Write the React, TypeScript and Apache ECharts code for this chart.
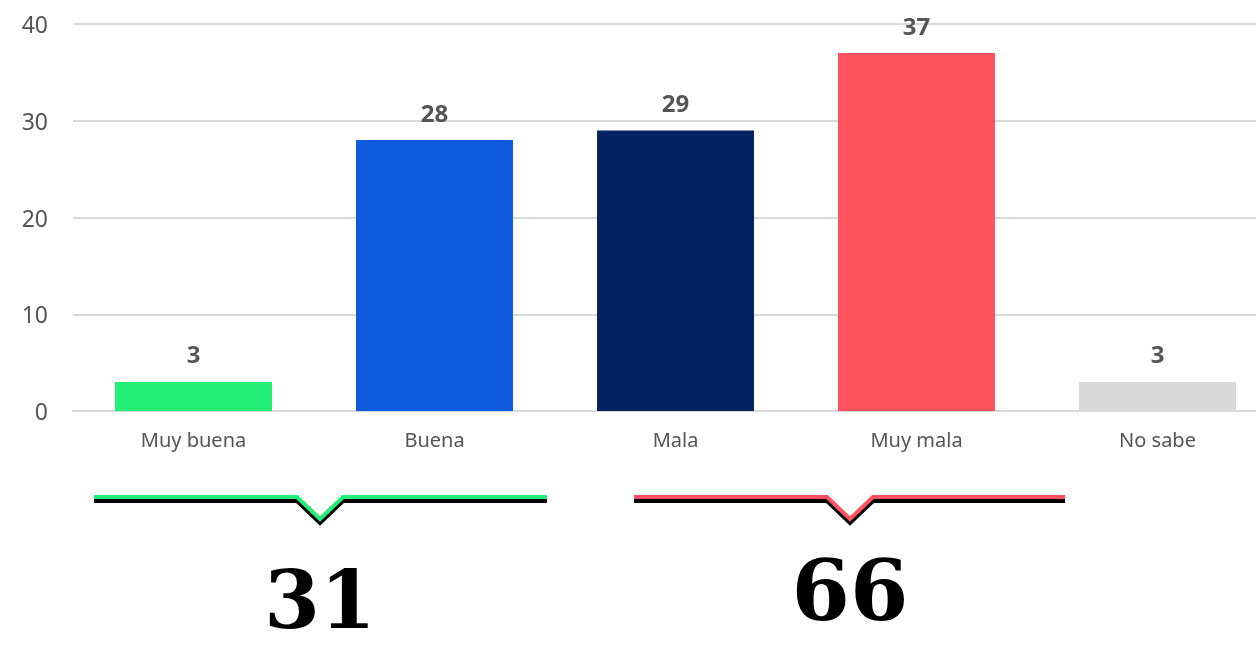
import React, { useEffect, useRef } from "react";
import * as echarts from "echarts";

const categories = ["Muy buena", "Buena", "Mala", "Muy mala", "No sabe"];
const values = [3, 28, 29, 37, 3];
const barColors = ["#22EE77", "#0F5BDD", "#032260", "#FF525E", "#D9D9D9"];
const positiveIdx = [0, 1];
const negativeIdx = [2, 3];

export default function App() {
  const ref = useRef<HTMLDivElement>(null);
  useEffect(() => {
    document.body.style.margin = "0";
    document.body.style.overflow = "hidden";
    const chart = echarts.init(ref.current!, null, { renderer: "svg" });
    const posSum = positiveIdx.reduce((s, i) => s + values[i], 0);
    const negSum = negativeIdx.reduce((s, i) => s + values[i], 0);
    const bracket = (x0: number, xa: number, x1: number, color: string) => {
      const y = 497;
      const d = 22;
      const pts = [[x0, y], [xa - 23, y], [xa, y + d], [xa + 23, y], [x1, y]];
      return [
        {
          type: "polyline",
          shape: { points: pts.map((p) => [p[0], p[1] + 4]) },
          style: { stroke: "#000", lineWidth: 4, fill: null },
        },
        {
          type: "polyline",
          shape: { points: pts },
          style: { stroke: color, lineWidth: 4, fill: null },
        },
      ];
    };
    chart.setOption({
      animation: false,
      grid: { left: 73, right: 0, top: 24, bottom: 238, containLabel: false },
      xAxis: {
        type: "category",
        data: categories,
        axisLine: { show: true, lineStyle: { color: "#D9D9D9", width: 2 } },
        axisTick: { show: false },
        axisLabel: { color: "#555", fontSize: 20, fontFamily: "Noto Sans", margin: 18 },
      },
      yAxis: {
        type: "value",
        min: 0,
        max: 40,
        interval: 10,
        axisLine: { show: false },
        axisTick: { show: false },
        splitLine: { lineStyle: { color: "#D9D9D9", width: 2 } },
        axisLabel: { color: "#555", fontSize: 23, fontFamily: "Noto Sans", margin: 25 },
      },
      series: [
        {
          type: "bar",
          data: values.map((v, i) => ({ value: v, itemStyle: { color: barColors[i] } })),
          barWidth: 157,
          label: {
            show: true,
            position: "top",
            distance: 16,
            color: "#555",
            fontSize: 24,
            fontWeight: "bold",
            fontFamily: "Noto Sans",
          },
        },
      ],
      graphic: [
        ...bracket(94, 320, 547, "#22EE77"),
        ...bracket(634, 850, 1065, "#FF525E"),
        {
          type: "text",
          x: 320,
          y: 600,
          style: {
            text: String(posSum),
            font: "bold 80px 'DejaVu Serif'",
            fill: "#000",
            align: "center",
            verticalAlign: "middle",
          },
        },
        {
          type: "text",
          x: 850,
          y: 590,
          style: {
            text: String(negSum),
            font: "bold 84px 'DejaVu Serif'",
            fill: "#000",
            align: "center",
            verticalAlign: "middle",
          },
        },
      ],
    });
    return () => chart.dispose();
  }, []);
  return (
    <div
      ref={ref}
      style={{ position: "fixed", left: 0, top: 0, width: 1278, height: 649 }}
    />
  );
}
